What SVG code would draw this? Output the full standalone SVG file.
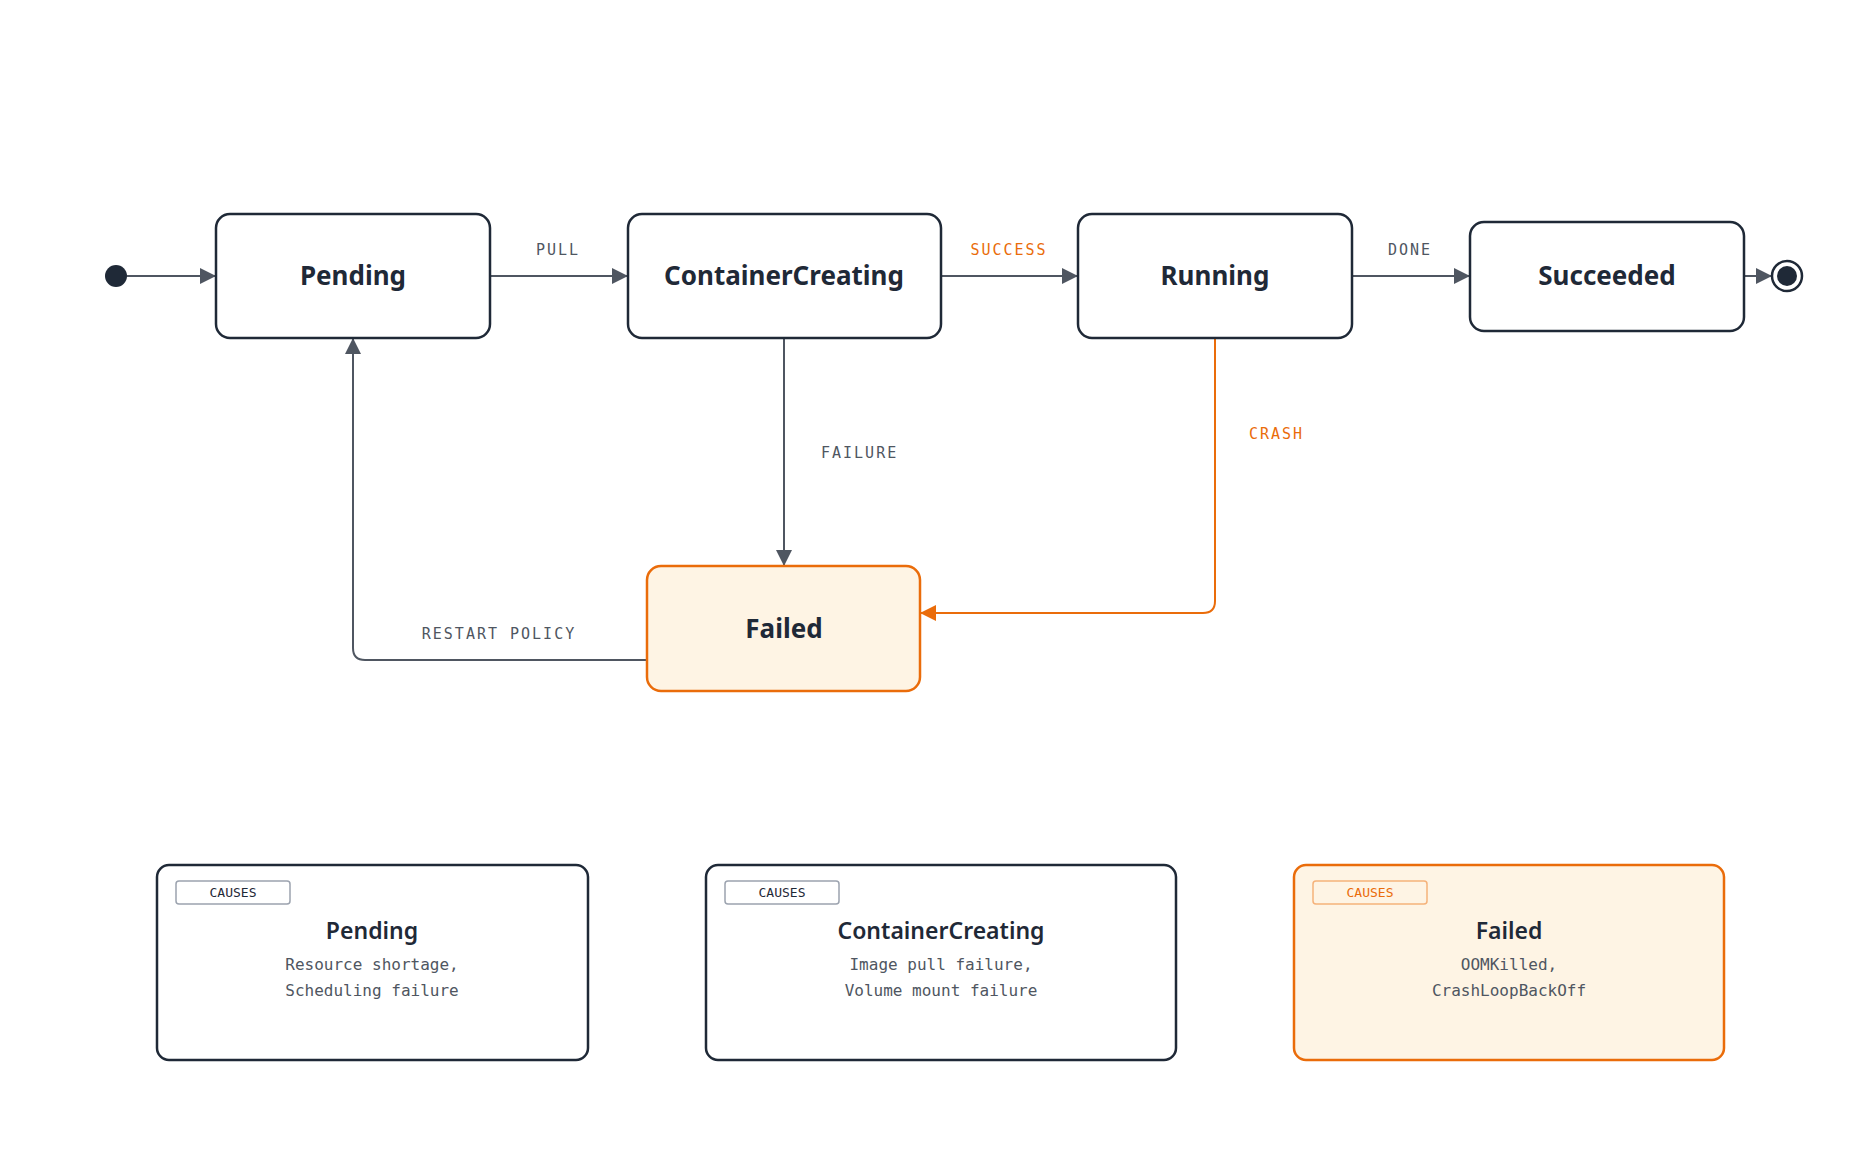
<svg xmlns="http://www.w3.org/2000/svg" width="1872" height="1172" viewBox="0 0 1872 1172">
<defs>
<marker id="ag" viewBox="0 0 10 10" refX="10" refY="5" markerWidth="16" markerHeight="16" markerUnits="userSpaceOnUse" orient="auto"><path d="M0,0 L10,5 L0,10 z" fill="#4f5661"/></marker>
<marker id="ao" viewBox="0 0 10 10" refX="10" refY="5" markerWidth="16" markerHeight="16" markerUnits="userSpaceOnUse" orient="auto"><path d="M0,0 L10,5 L0,10 z" fill="#ea6c0a"/></marker>
</defs>
<style>
.st{fill:#fff;stroke:#1f2937;stroke-width:2.5}
.fl{fill:#fef4e4;stroke:#ea6c0a;stroke-width:2.5}
.t{font-family:"Noto Sans",sans-serif;font-weight:700;font-size:26px;fill:#1f2937;text-anchor:middle}
.ct{font-family:"Noto Sans",sans-serif;font-weight:600;font-size:23px;fill:#1f2937;text-anchor:middle}
.lb{font-family:"DejaVu Sans Mono",monospace;font-size:15px;letter-spacing:2px;fill:#4f5661}
.lo{fill:#ea6c0a}
.d{font-family:"DejaVu Sans Mono",monospace;font-size:16px;fill:#4f5661;text-anchor:middle}
.bd{fill:#fff;stroke:#9ca3af;stroke-width:1.5}
.bt{font-family:"DejaVu Sans Mono",monospace;font-size:13px;fill:#1f2937;text-anchor:middle}
.cg{fill:none;stroke:#4f5661;stroke-width:2}
.co{fill:none;stroke:#ea6c0a;stroke-width:2}
</style>
<g id="connectors">
<path class="cg" d="M127,276 H216" marker-end="url(#ag)"/>
<path class="cg" d="M490,276 H628" marker-end="url(#ag)"/>
<path class="cg" d="M941,276 H1078" marker-end="url(#ag)"/>
<path class="cg" d="M1352,276 H1470" marker-end="url(#ag)"/>
<path class="cg" d="M1744,276 H1772" marker-end="url(#ag)"/>
<path class="cg" d="M784,338 V566" marker-end="url(#ag)"/>
<path class="co" d="M1215,338 V601 Q1215,613 1203,613 H920" marker-end="url(#ao)"/>
<path class="cg" d="M647,660 H365 Q353,660 353,648 V338" marker-end="url(#ag)"/>
<text class="lb" x="558" y="255" text-anchor="middle">PULL</text>
<text class="lb lo" x="1009" y="255" text-anchor="middle">SUCCESS</text>
<text class="lb" x="1410" y="255" text-anchor="middle">DONE</text>
<text class="lb" x="821" y="458">FAILURE</text>
<text class="lb lo" x="1249" y="439">CRASH</text>
<text class="lb" x="499" y="639" text-anchor="middle">RESTART POLICY</text>
</g>
<g id="start"><circle cx="116" cy="276" r="11" fill="#1f2937"/></g>
<g id="end"><circle cx="1787" cy="276" r="15" fill="#fff" stroke="#1f2937" stroke-width="2.5"/><circle cx="1787" cy="276" r="10" fill="#1f2937"/></g>
<g id="pending"><rect class="st" x="216" y="214" width="274" height="124" rx="14"/><text class="t" x="353" y="285">Pending</text></g>
<g id="containercreating"><rect class="st" x="628" y="214" width="313" height="124" rx="14"/><text class="t" x="784" y="285">ContainerCreating</text></g>
<g id="running"><rect class="st" x="1078" y="214" width="274" height="124" rx="14"/><text class="t" x="1215" y="285">Running</text></g>
<g id="succeeded"><rect class="st" x="1470" y="222" width="274" height="109" rx="14"/><text class="t" x="1607" y="285">Succeeded</text></g>
<g id="failed"><rect class="fl" x="647" y="566" width="273" height="125" rx="14"/><text class="t" x="784" y="638">Failed</text></g>
<g id="card-pending"><rect class="st" x="157" y="865" width="431" height="195" rx="12"/><rect class="bd" x="176" y="881" width="114" height="23" rx="3"/><text class="bt" x="233" y="897">CAUSES</text><text class="ct" x="372" y="939">Pending</text><text class="d" x="372" y="970">Resource shortage,</text><text class="d" x="372" y="996">Scheduling failure</text></g>
<g id="card-cc"><rect class="st" x="706" y="865" width="470" height="195" rx="12"/><rect class="bd" x="725" y="881" width="114" height="23" rx="3"/><text class="bt" x="782" y="897">CAUSES</text><text class="ct" x="941" y="939">ContainerCreating</text><text class="d" x="941" y="970">Image pull failure,</text><text class="d" x="941" y="996">Volume mount failure</text></g>
<g id="card-failed"><rect class="fl" x="1294" y="865" width="430" height="195" rx="12"/><rect x="1313" y="881" width="114" height="23" rx="3" fill="#fef4e4" stroke="#f5b27a" stroke-width="1.5"/><text class="bt" x="1370" y="897" fill="#ea6c0a" style="fill:#ea6c0a">CAUSES</text><text class="ct" x="1509" y="939">Failed</text><text class="d" x="1509" y="970">OOMKilled,</text><text class="d" x="1509" y="996">CrashLoopBackOff</text></g>
</svg>
